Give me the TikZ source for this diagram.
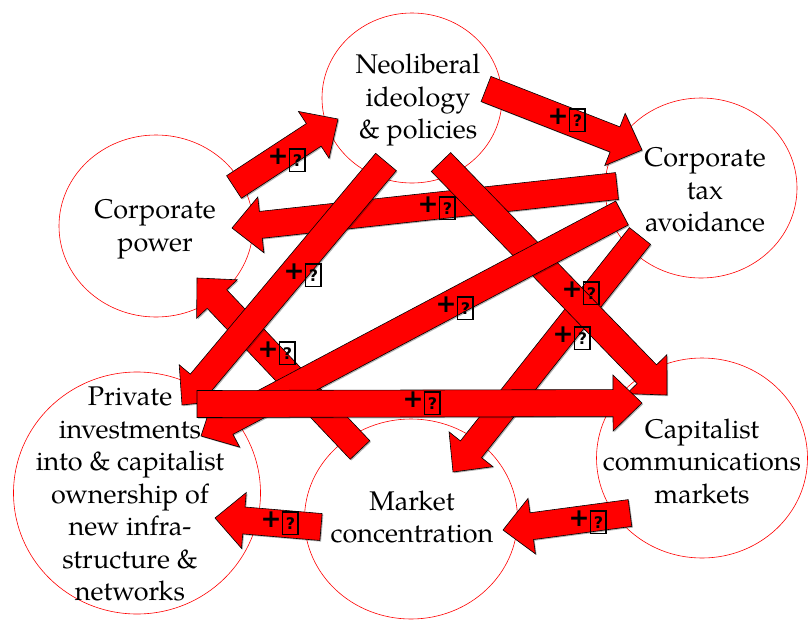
\documentclass[tikz,border=0pt]{standalone}
\usepackage{fontspec}
\newfontfamily\lblfont{DejaVu Sans}
\newfontfamily\bubfont{texgyrepagella-regular.otf}
\usetikzlibrary{calc,shapes.geometric,shadows}
\tikzset{
  bub/.style={ellipse, draw=red, line width=0.6pt, fill=white, inner sep=0pt},
  txt/.style={align=center, font=\bubfont\fontsize{27}{32.5}\selectfont, inner sep=0pt},
  barrow/.style={fill=red, draw=black, line width=0.6pt, line join=miter,
    drop shadow={shadow xshift=1.2pt, shadow yshift=-1.2pt, opacity=0.3, fill=black}},
  lbl/.style={inner sep=0pt, font=\lblfont\bfseries\fontsize{25}{25}\selectfont}
}
\newcommand{\qbox}{{\setlength\fboxrule{1.8pt}\setlength\fboxsep{0pt}\raisebox{-4pt}{\fbox{\makebox[14pt]{\rule[-2pt]{0pt}{21pt}\raisebox{2pt}{\fontsize{16}{16}\selectfont ?}}}}}}
\newcommand{\plq}{\raisebox{0pt}{+}\kern0pt\qbox}
\newcommand{\barr}[3]{%
  \coordinate (#3b) at ($(#2)!29pt!(#1)$);
  \draw[barrow] ($(#1)!13.5pt!90:(#2)$) -- ($(#3b)!13.5pt!90:(#2)$) -- ($(#3b)!28pt!90:(#2)$) -- (#2)
    -- ($(#3b)!28pt!-90:(#2)$) -- ($(#3b)!13.5pt!-90:(#2)$) -- ($(#1)!13.5pt!-90:(#2)$) -- cycle;}
\begin{document}
\begin{tikzpicture}[x=1pt,y=-1pt]
\useasboundingbox (0,0) rectangle (809,619);
% bubbles
\node[bub, minimum width=180pt, minimum height=170pt] (neo) at (412,98) {};
\node[bub, minimum width=192pt, minimum height=180pt] (tax) at (701,188) {};
\node[bub, minimum width=194pt, minimum height=182pt] (pow) at (156,226) {};
\node[bub, minimum width=211pt, minimum height=200pt] (cap) at (702,458) {};
\node[bub, minimum width=213pt, minimum height=200pt] (mkt) at (411,519) {};
\node[bub, minimum width=247pt, minimum height=242pt] (pri) at (137,493) {};
% texts
\node[txt] (neoT) at (418,100) {Neoliberal\\ideology\\\& policies};
\node[txt] (taxT) at (705,190) {Corporate\\tax\\avoidance};
\node[txt] (powT) at (155,229) {Corporate\\power};
\node[txt] (capT) at (702,461) {Capitalist\\communications\\markets};
\node[txt] (mktT) at (412,517) {Market\\concentration};
\node[txt] (priT) at (130,494) {Private\\investments\\into \& capitalist\\ownership of\\new infra-\\structure \&\\networks};
% arrow end points
\coordinate (a1t) at (234,187);  \coordinate (a1h) at (338,119);
\coordinate (a2t) at (486,89);   \coordinate (a2h) at (642,150);
\coordinate (a3t) at (617,186);  \coordinate (a3h) at (232,228);
\coordinate (a4t) at (386,162);  \coordinate (a4h) at (182,405);
\coordinate (a5t) at (441,162);  \coordinate (a5h) at (667,395);
\coordinate (a6t) at (622,213);  \coordinate (a6h) at (201,436);
\coordinate (a7t) at (640,236);  \coordinate (a7h) at (453,472);
\coordinate (a8t) at (360,450);  \coordinate (a8h) at (197,278);
\coordinate (a9t) at (197,404);  \coordinate (a9h) at (642,403);
\coordinate (a10t) at (630,513); \coordinate (a10h) at (503,530);
\coordinate (a11t) at (321,527); \coordinate (a11h) at (215,518);
% arrows
\barr{a8t}{a8h}{a8}
\barr{a3t}{a3h}{a3}
\barr{a7t}{a7h}{a7}
\barr{a5t}{a5h}{a5}
\barr{a6t}{a6h}{a6}
\barr{a4t}{a4h}{a4}
\barr{a1t}{a1h}{a1}
\barr{a2t}{a2h}{a2}
\barr{a9t}{a9h}{a9}
\barr{a10t}{a10h}{a10}
\barr{a11t}{a11h}{a11}
% labels
\node[lbl] (l1) at (287,160) {\plq};
\node[lbl] (l2) at (567,120) {\plq};
\node[lbl] (l3) at (437,208) {\plq};
\node[lbl] (l4) at (303,275) {\plq};
\node[lbl] (l5) at (581,293) {\plq};
\node[lbl] (l6) at (455,308) {\plq};
\node[lbl] (l7) at (572,338) {\plq};
\node[lbl] (l8) at (277,353) {\plq};
\node[lbl] (l9) at (422,403) {\plq};
\node[lbl] (l10) at (588,522) {\plq};
\node[lbl] (l11) at (280,523) {\plq};
\end{tikzpicture}
\end{document}
